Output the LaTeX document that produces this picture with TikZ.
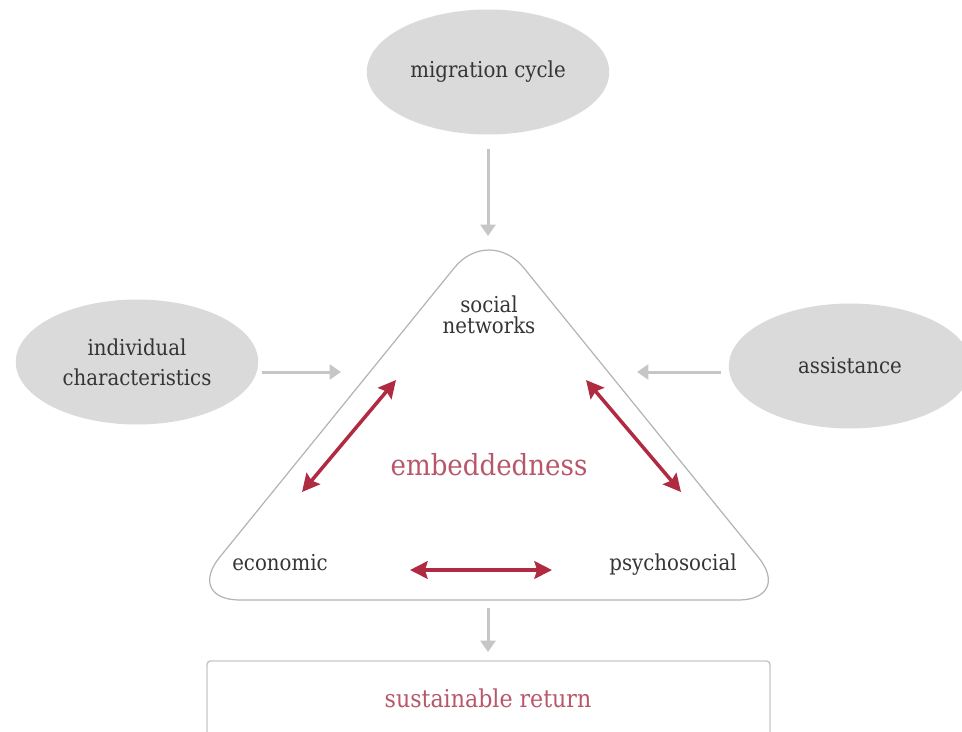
\documentclass[tikz,border=0pt]{standalone}
\usepackage{fontspec}
\setmainfont{DejaVu Serif Condensed}
\usetikzlibrary{arrows.meta,shapes.geometric}
\definecolor{ovalgray}{HTML}{DADADA}
\definecolor{linegray}{HTML}{C6C6C6}
\definecolor{edgegray}{HTML}{B4B4B4}
\definecolor{textgray}{HTML}{353535}
\definecolor{embred}{HTML}{B02A42}
\definecolor{softred}{HTML}{B8566A}

\begin{document}
\begin{tikzpicture}[x=0.02cm,y=-0.02cm,
    oval/.style={ellipse,fill=ovalgray,minimum width=4.85cm,minimum height=2.5cm,inner sep=0pt,
        text=textgray,align=center,font=\fontsize{12.5}{17}\selectfont},
    cornertext/.style={text=textgray,align=center,font=\fontsize{12.5}{12}\selectfont},
    graylink/.style={draw=linegray,line width=1.7pt,-{Triangle[length=6.5pt,width=8.5pt]}},
    redlink/.style={draw=embred,line width=2pt,{Stealth[length=10pt,width=10pt,inset=1.5pt]}-{Stealth[length=10pt,width=10pt,inset=1.5pt]}}]
    \useasboundingbox (0,0) rectangle (962,731);

    % triangle corners
    \coordinate (apex) at (489,225);
    \coordinate (bl) at (185,600);
    \coordinate (br) at (793,600);
    \draw[edgegray,line width=0.7pt,rounded corners=1.1cm] (489,600) -- (br) -- (apex) -- (bl) -- cycle;

    \node[oval] (migr) at (488,72) {migration cycle};
    \node[oval] (indiv) at (137,362) {individual\\characteristics};
    \node[oval] (assist) at (850,366) {assistance};

    \node[cornertext] (social) at (489,315) {social\\networks};
    \node[cornertext,anchor=base] (econ) at (280,570) {economic};
    \node[cornertext,anchor=base] (psych) at (673,570) {psychosocial};
    \node[text=softred,font=\fontsize{16.5}{18}\selectfont] (embed) at (489,465) {embeddedness};

    \draw[linegray,line width=0.8pt,rounded corners=2pt] (207,745) |- (770,661) -- (770,745);
    \node[text=softred,font=\fontsize{14}{16}\selectfont] (return) at (488,698) {sustainable return};

    \coordinate (topin) at (488,236);
    \coordinate (leftin) at (341,372);
    \coordinate (rightin) at (637,372);
    \coordinate (botout) at (488,608);
    \coordinate (botin) at (488,652);
    \draw[graylink,shorten <=8pt] (migr) -- (topin);
    \draw[graylink,shorten <=2pt] (indiv.east |- leftin) -- (leftin);
    \draw[graylink,shorten <=4.5pt] (assist.west |- rightin) -- (rightin);
    \draw[graylink] (botout) -- (botin);

    \coordinate (sn-l) at (396,380);
    \coordinate (ec-t) at (302,492);
    \coordinate (sn-r) at (586,380);
    \coordinate (ps-t) at (681,492);
    \coordinate (ec-r) at (410,570);
    \coordinate (ps-l) at (552,570);
    \draw[redlink] (sn-l) -- (ec-t);
    \draw[redlink] (sn-r) -- (ps-t);
    \draw[redlink] (ec-r) -- (ps-l);
\end{tikzpicture}
\end{document}
